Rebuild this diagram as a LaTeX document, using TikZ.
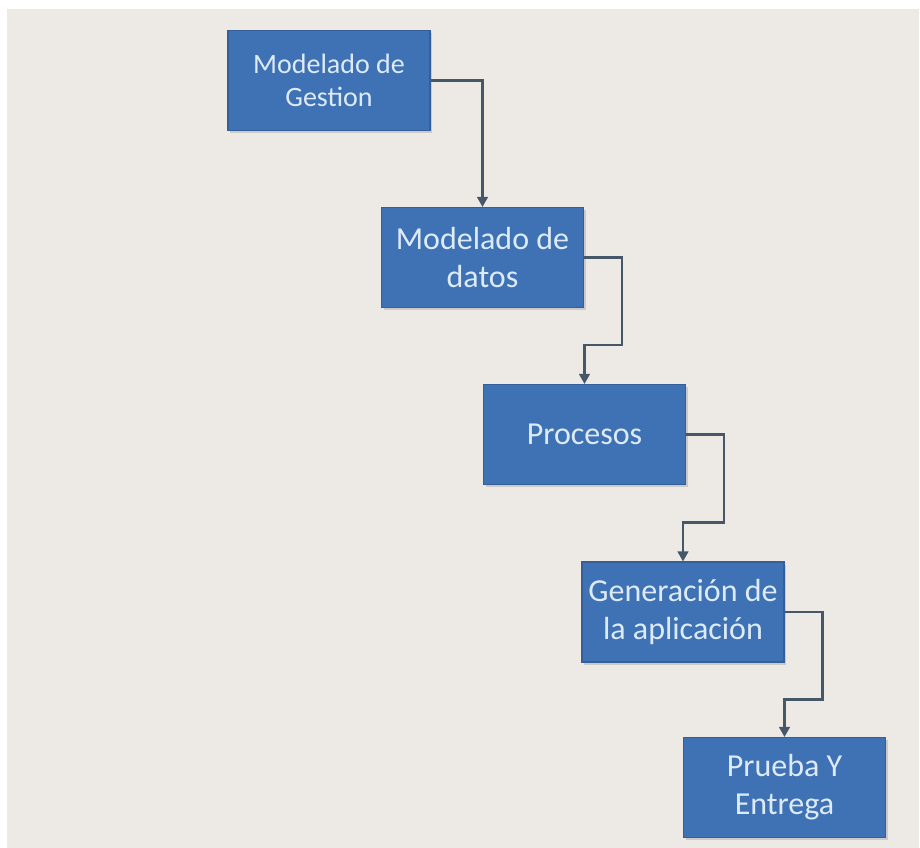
\documentclass[tikz,border=0pt]{standalone}
\usepackage{fontspec}
\setmainfont{Carlito}
\usetikzlibrary{arrows.meta,calc,shadows}
\definecolor{pagebg}{HTML}{EDEAE6}
\definecolor{boxfill}{HTML}{3F72B4}
\definecolor{boxedge}{HTML}{355F98}
\definecolor{boxtext}{HTML}{DDEBF8}
\definecolor{linkcol}{HTML}{47576A}
\begin{document}
\begin{tikzpicture}[x=0.75pt,y=-0.75pt,
  stage/.style={rectangle, draw=boxedge, line width=0.8pt, fill=boxfill,
    text=boxtext, minimum width=151.5pt, minimum height=75pt,
    align=center, inner sep=0pt, font=\fontsize{24}{28.5}\selectfont,
    drop shadow={shadow xshift=1.5pt, shadow yshift=-2.2pt, opacity=0.3, fill=black!50}},
  smalltext/.style={font=\fontsize{21}{25}\selectfont},
  link/.style={draw=linkcol, line width=1.6pt, -{Triangle[width=8pt,length=7.5pt]}}]

% page and backdrop
\fill[white] (0,0) rectangle (920,848);
\useasboundingbox (0,0) rectangle (920,848);
\fill[pagebg] (7,9) rectangle (919,848);

% process stages
\node[stage,smalltext] (gestion) at (329,80.5) {Modelado de\\Gestion};
\node[stage] (datos)   at (482.5,257.5) {Modelado de\\datos};
\node[stage] (proc)    at (584.5,434.5) {Procesos};
\node[stage] (gen)     at (683,612) {Generación de\\la aplicación};
\node[stage] (prueba)  at (784.5,787.5) {Prueba Y\\Entrega};

% elbow connectors: out to the right, down to mid-gap, over and down
\draw[link] (gestion.east) -| (datos.north);
\draw[link] (datos.east) -- ++(38,0) |- ($(proc.north)+(0,-39)$) -- (proc.north);
\draw[link] (proc.east) -- ++(38,0) |- ($(gen.north)+(0,-39)$) -- (gen.north);
\draw[link] (gen.east) -- ++(38,0) |- ($(prueba.north)+(0,-37.5)$) -- (prueba.north);
\end{tikzpicture}
\end{document}
